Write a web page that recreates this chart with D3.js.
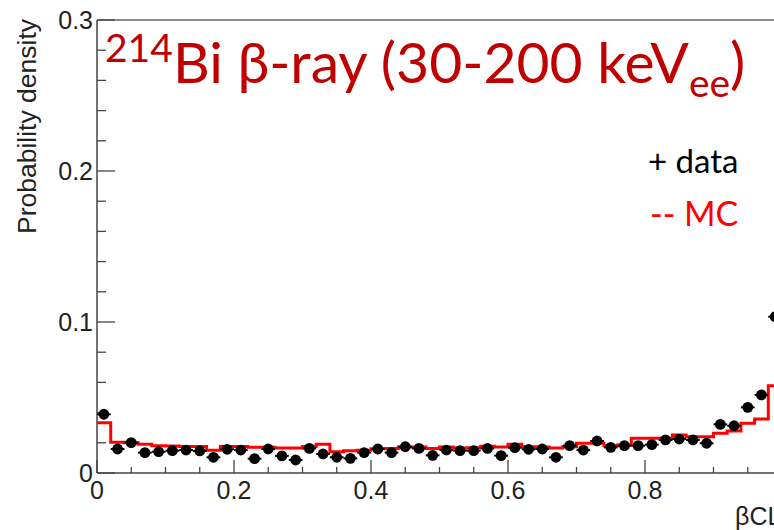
<!DOCTYPE html>
<html lang="en">
<head>
<meta charset="utf-8">
<style>
  body { margin:0; padding:0; background:#fff; }
  svg { display:block; }
  .tick-label { font: 25px "Liberation Sans", Arial, sans-serif; fill:#222; }
</style>
</head>
<body>
<div id="chart"></div>
<script src="https://cdn.jsdelivr.net/npm/d3@7"></script>
<script>
// bin edges: 50 bins of width 0.02 over [0,1]
var binWidth = 0.02;
var dataVals = [
  0.0389, 0.0159, 0.0201, 0.0135, 0.0141, 0.0148, 0.0152, 0.0146, 0.0104, 0.0157,
  0.0152, 0.0095, 0.0159, 0.0113, 0.0086, 0.0163, 0.0126, 0.0104, 0.0097, 0.0135,
  0.0159, 0.0135, 0.0174, 0.0163, 0.0117, 0.0152, 0.0148, 0.0148, 0.0163, 0.0115,
  0.0168, 0.0157, 0.0159, 0.0104, 0.0181, 0.0152, 0.0212, 0.0170, 0.0181, 0.0181,
  0.0188, 0.0219, 0.0225, 0.0219, 0.0197, 0.0322, 0.0313, 0.0435, 0.0517, 0.1035
];
var dataErr = [
  0.0020, 0.0012, 0.0012, 0.0012, 0.0012, 0.0012, 0.0012, 0.0012, 0.0012, 0.0012,
  0.0012, 0.0012, 0.0012, 0.0012, 0.0012, 0.0012, 0.0012, 0.0012, 0.0012, 0.0012,
  0.0012, 0.0012, 0.0012, 0.0012, 0.0012, 0.0012, 0.0012, 0.0012, 0.0012, 0.0012,
  0.0012, 0.0012, 0.0012, 0.0012, 0.0012, 0.0012, 0.0012, 0.0012, 0.0012, 0.0012,
  0.0012, 0.0012, 0.0012, 0.0012, 0.0012, 0.0015, 0.0015, 0.0018, 0.0020, 0.0025
];
var mcVals = [
  0.0333, 0.0203, 0.0200, 0.0190, 0.0180, 0.0178, 0.0176, 0.0176, 0.0150, 0.0176,
  0.0176, 0.0170, 0.0170, 0.0165, 0.0165, 0.0175, 0.0190, 0.0141, 0.0148, 0.0150,
  0.0160, 0.0162, 0.0172, 0.0172, 0.0163, 0.0172, 0.0165, 0.0168, 0.0177, 0.0172,
  0.0190, 0.0174, 0.0172, 0.0165, 0.0174, 0.0197, 0.0197, 0.0181, 0.0186, 0.0230,
  0.0230, 0.0230, 0.0252, 0.0240, 0.0240, 0.0263, 0.0278, 0.0329, 0.0358, 0.0578
];
var yTicks = [0, 0.1, 0.2, 0.3];
var xTicks = [0, 0.2, 0.4, 0.6, 0.8];

var W = 774, H = 530;
var svg = d3.select("#chart").append("svg").attr("width", W).attr("height", H);

var x = d3.scaleLinear().domain([0, 1]).range([97, 782]);
var y = d3.scaleLinear().domain([0, 0.3]).range([473, 20]);

var axisCol = "#444";

// frame top
svg.append("line").attr("x1", x(0)).attr("x2", W).attr("y1", y(0.3)).attr("y2", y(0.3))
  .attr("stroke", "#666").attr("stroke-width", 1.5);

// y axis
var yAxis = svg.append("g").attr("transform", "translate(" + x(0) + ",0)");
yAxis.append("line").attr("y1", y(0)).attr("y2", y(0.3)).attr("stroke", axisCol).attr("stroke-width", 1.5);
d3.range(0, 0.3001, 0.02).forEach(function(v) {
  var major = Math.abs(v * 10 - Math.round(v * 10)) < 1e-6;
  yAxis.append("line").attr("x1", 0).attr("x2", major ? 18 : 9)
    .attr("y1", y(v)).attr("y2", y(v)).attr("stroke", axisCol).attr("stroke-width", 1.3);
});
yAxis.selectAll("text.ylab").data(yTicks).enter().append("text")
  .attr("class", "tick-label")
  .attr("x", -4).attr("y", function(d) { return y(d) + 9; })
  .attr("text-anchor", "end")
  .text(function(d) { return d === 0 ? "0" : d3.format(".1f")(d); });

// x axis
var xAxis = svg.append("g").attr("transform", "translate(0," + y(0) + ")");
xAxis.append("line").attr("x1", x(0)).attr("x2", W).attr("stroke", axisCol).attr("stroke-width", 1.5);
d3.range(0, 1.0001, 0.05).forEach(function(v) {
  var major = Math.abs(v * 5 - Math.round(v * 5)) < 1e-6;
  xAxis.append("line").attr("x1", x(v)).attr("x2", x(v))
    .attr("y1", 0).attr("y2", major ? -13 : -6).attr("stroke", axisCol).attr("stroke-width", 1.3);
});
xAxis.selectAll("text.xlab").data(xTicks).enter().append("text")
  .attr("class", "tick-label")
  .attr("x", function(d) { return x(d); }).attr("y", 26)
  .attr("text-anchor", "middle")
  .text(function(d) { return d === 0 ? "0" : d3.format(".1f")(d); });

// axis titles
svg.append("text").attr("class", "tick-label")
  .attr("transform", "translate(36,234) rotate(-90)")
  .style("font-size", "26.5px")
  .text("Probability density");
svg.append("text").attr("class", "tick-label")
  .attr("x", 735).attr("y", 525)
  .text("\u03B2CL");

// MC histogram (step)
var mcPts = mcVals.map(function(v, i) { return [i * binWidth, v]; });
mcPts.push([1, mcVals[mcVals.length - 1]]);
var step = d3.line().x(function(d) { return x(d[0]); }).y(function(d) { return y(d[1]); })
  .curve(d3.curveStepAfter);
svg.append("path").datum(mcPts).attr("d", step)
  .attr("fill", "none").attr("stroke", "#ff0000").attr("stroke-width", 3);

// data points
var pts = svg.append("g").selectAll("g").data(dataVals).enter().append("g");
pts.append("line")
  .attr("x1", function(d, i) { return x(i * binWidth); })
  .attr("x2", function(d, i) { return x((i + 1) * binWidth); })
  .attr("y1", function(d) { return y(d); }).attr("y2", function(d) { return y(d); })
  .attr("stroke", "#000").attr("stroke-width", 2);
pts.append("line")
  .attr("x1", function(d, i) { return x((i + 0.5) * binWidth); })
  .attr("x2", function(d, i) { return x((i + 0.5) * binWidth); })
  .attr("y1", function(d, i) { return y(d - dataErr[i]) + 2; })
  .attr("y2", function(d, i) { return y(d + dataErr[i]) - 2; })
  .attr("stroke", "#000").attr("stroke-width", 2);
pts.append("circle")
  .attr("cx", function(d, i) { return x((i + 0.5) * binWidth); })
  .attr("cy", function(d) { return y(d); })
  .attr("r", 5.4).attr("fill", "#000");

// title
var title = svg.append("text").attr("x", 105).attr("y", 83)
  .attr("fill", "#c00000")
  .style("font-family", "Lato, 'Open Sans', sans-serif")
  .style("font-size", "57px");
title.append("tspan").attr("dy", -21).style("font-size", "39px").text("214");
title.append("tspan").attr("dy", 21).text("Bi \u03B2-ray (30-200 keV");
title.append("tspan").attr("dy", 14).style("font-size", "39px").text("ee");
title.append("tspan").attr("dy", -14).text(")");

// legend
svg.append("text").attr("x", 648).attr("y", 173)
  .attr("fill", "#000")
  .style("font-family", "Lato, 'Open Sans', sans-serif").style("font-size", "33px")
  .text("+ data");
svg.append("text").attr("x", 650).attr("y", 226)
  .attr("fill", "#ff0000")
  .style("font-family", "Lato, 'Open Sans', sans-serif").style("font-size", "34px")
  .text("-- MC");
</script>
</body>
</html>
